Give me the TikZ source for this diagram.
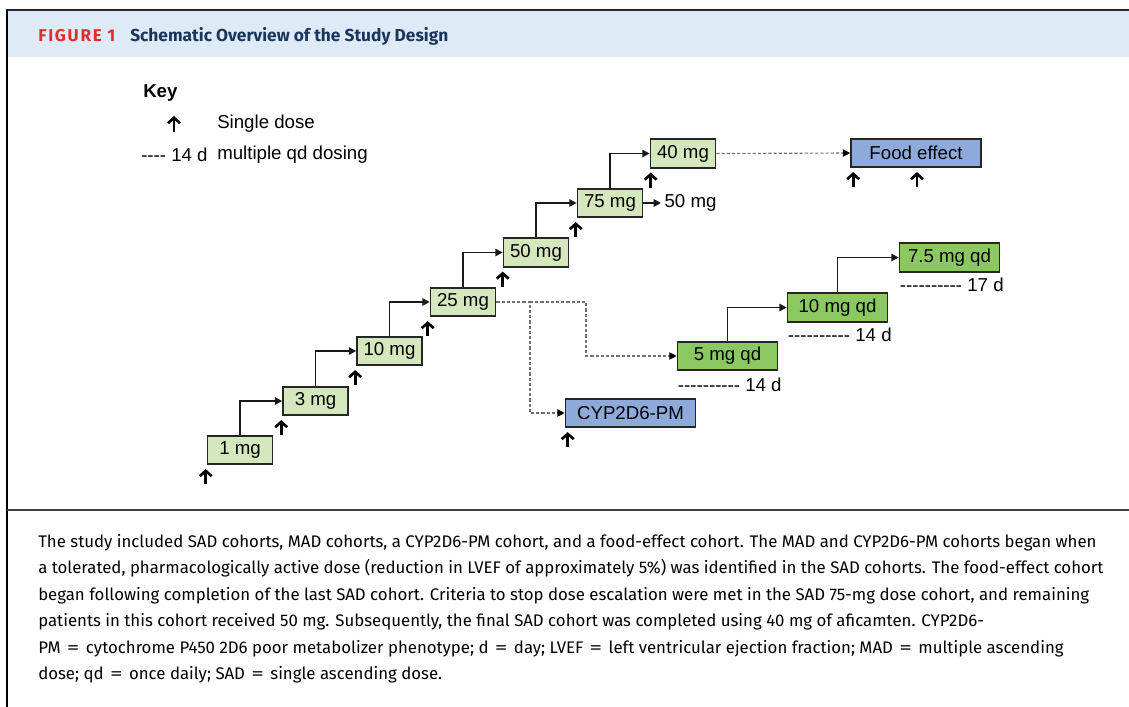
\documentclass[tikz,border=0pt]{standalone}
\usepackage{graphicx}
\usepackage{fontspec}
\setmainfont{Liberation Sans}
\newfontfamily\capfont{Fira Sans}
\usetikzlibrary{arrows.meta,calc}
\definecolor{lgreen}{HTML}{D5E8BD}
\definecolor{dgreen}{HTML}{8CC862}
\definecolor{bluebox}{HTML}{8EAADB}
\definecolor{hdr}{HTML}{DEEAF6}
\definecolor{navy}{HTML}{1B365D}
\definecolor{figred}{HTML}{E32B2F}
\definecolor{dashc}{HTML}{707070}
\newcommand\hy{-\kern0pt}
\newcommand\tenhy{\hy\hy\hy\hy\hy\hy\hy\hy\hy\hy}
\newcommand\eqs{\hspace{0.38em}\scalebox{1.5}[1]{=}\hspace{0.38em}}
\begin{document}
\begin{tikzpicture}[x=0.75pt,y=-0.75pt,
  box/.style={draw=black!85, line width=1.2pt, minimum height=21.4pt, inner sep=0pt, font=\fontsize{14}{16}\selectfont},
  sadbox/.style={box, fill=lgreen, minimum width=48.75pt},
  madbox/.style={box, fill=dgreen, minimum width=75pt},
  othbox/.style={box, fill=bluebox, minimum width=97.5pt},
  conn/.style={line width=1.3pt, black!90, -{Triangle[length=5.5pt,width=5.5pt]}},
  dconn/.style={dashc, line width=0.85pt, dash pattern=on 2.4pt off 1.5pt, -{Triangle[length=5.5pt,width=5.5pt,color=black]}},
  sd/.style={line width=2pt, -{Straight Barb[length=4pt,width=9pt]}},
  lbl/.style={font=\fontsize{14}{16}\selectfont, inner sep=0pt},
  captxt/.style={anchor=base west, inner sep=0pt, font=\capfont\fontsize{12.6}{15}\selectfont}
]
\useasboundingbox (0,0) rectangle (1129,707);
% frame
\fill[hdr] (8,11) rectangle (1129,57);
\draw[line width=1.5pt, black!85] (6,10) -- (1129,10);
\draw[line width=1.6pt] (7,10) -- (7,707);
\draw[line width=1.6pt, black!75] (7,510) -- (1129,510);
% title
\node[anchor=base west, inner sep=0pt, text=figred, font=\capfont\bfseries\fontsize{12.8}{14}\selectfont\addfontfeatures{LetterSpace=10}] (figlbl) at (38,41) {FIGURE 1};
\node[anchor=base west, inner sep=0pt, text=navy, font=\capfont\bfseries\fontsize{13}{15}\selectfont] (title) at (130,41) {Schematic Overview of the Study Design};
% key
\node[lbl, anchor=west, font=\bfseries\fontsize{14}{16}\selectfont] (key) at (143,93) {Key};
\coordinate (keyarrB) at (174,132);
\coordinate (keyarrT) at (174,116);
\draw[sd] (keyarrB) -- (keyarrT);
\node[lbl, anchor=west] (single) at (217,124) {Single dose};
\node[lbl, anchor=west] (keyd) at (141,155) {\hy\hy\hy\hy\ 14 d};
\node[lbl, anchor=west] (multi) at (217,155) {multiple qd dosing};
% SAD boxes
\node[sadbox] (b1) at (240,450) {1 mg};
\node[sadbox] (b3) at (315.5,401) {3 mg};
\node[sadbox] (b10) at (389.5,351) {10 mg};
\node[sadbox] (b25) at (463,302) {25 mg};
\node[sadbox] (b50) at (536,252.5) {50 mg};
\node[sadbox] (b75) at (610,203) {75 mg};
\node[sadbox] (b40) at (683,153.5) {40 mg};
\node[lbl, anchor=west, inner xsep=2.5pt] (t50) at (661,203) {50 mg};
% other boxes
\node[othbox] (food) at (916,153) {Food effect};
\node[othbox] (cyp) at (630.5,413) {CYP2D6-PM};
\node[madbox] (q5) at (727.5,356) {5 mg qd};
\node[madbox] (q10) at (837.5,307.5) {10 mg qd};
\node[madbox] (q75) at (949.5,257.5) {7.5 mg qd};
% multiple dosing labels
\node[lbl, anchor=west] (d5) at ($(q5.south west)+(1,14)$) {\tenhy\ 14 d};
\node[lbl, anchor=west] (d10) at ($(q10.south west)+(1,12)$) {\tenhy\ 14 d};
\node[lbl, anchor=west] (d75) at ($(q75.south west)+(1,12)$) {\tenhy\ 17 d};
% stair connectors
\draw[conn] (b1.north) |- (b3.west);
\draw[conn] (b3.north) |- (b10.west);
\draw[conn] (b10.north) |- (b25.west);
\draw[conn] (b25.north) |- (b50.west);
\draw[conn] (b50.north) |- (b75.west);
\draw[conn] (b75.north) |- (b40.west);
\draw[conn] (b75.east) -- (t50.west);
\draw[conn] (q5.north) |- (q10.west);
\draw[conn] (q10.north) |- (q75.west);
% dashed connectors
\coordinate (j1) at (530,302);
\coordinate (j2) at (586,302);
\draw[dconn] (b40.east) -- (food.west);
\draw[dconn] (b25.east) -- (j1) |- (cyp.west);
\draw[dconn] (j1) -- (j2) |- (q5.west);
% single dose arrows
\foreach \b/\dx in {b1/-1,b3/-1,b10/-1,b25/-2,b50/0,b75/-1,b40/1,cyp/3,food/3}{
  \draw[sd] ($(\b.south west)+(\dx,19)$) -- ($(\b.south west)+(\dx,4)$);
}
\draw[sd] ($(food.south)+(1,19)$) -- ($(food.south)+(1,4)$);
% caption
\node[captxt] (c1) at (38,547) {The study included SAD cohorts, MAD cohorts, a CYP2D6-PM cohort, and a food-effect cohort. The MAD and CYP2D6-PM cohorts began when};
\node[captxt] (c2) at (38,573.5) {a tolerated, pharmacologically active dose (reduction in LVEF of approximately 5\%) was identified in the SAD cohorts. The food-effect cohort};
\node[captxt] (c3) at (38,600) {began following completion of the last SAD cohort. Criteria to stop dose escalation were met in the SAD 75-mg dose cohort, and remaining};
\node[captxt] (c4) at (38,626.5) {patients in this cohort received 50 mg. Subsequently, the final SAD cohort was completed using 40 mg of aficamten. CYP2D6-};
\node[captxt] (c5) at (38,653) {PM\eqs cytochrome P450 2D6 poor metabolizer phenotype; d\eqs day; LVEF\eqs left ventricular ejection fraction; MAD\eqs multiple ascending};
\node[captxt] (c6) at (38,679) {dose; qd\eqs once daily; SAD\eqs single ascending dose.};
\end{tikzpicture}
\end{document}
